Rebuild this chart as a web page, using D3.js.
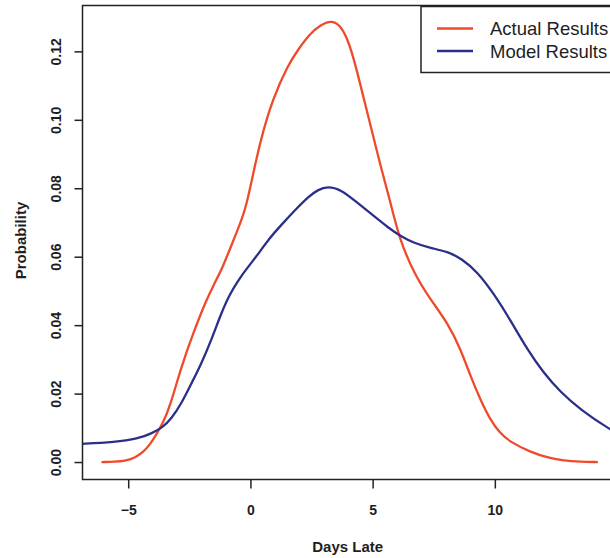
<!DOCTYPE html>
<html>
<head>
<meta charset="utf-8">
<script src="https://cdn.jsdelivr.net/npm/d3@7"></script>
<style>
  html, body { margin: 0; padding: 0; background: #fff; }
  svg { display: block; }
  text { font-family: "Liberation Sans", Arial, Helvetica, sans-serif; fill: #1e1e1e; }
</style>
</head>
<body>
<svg id="chart" width="610" height="558"></svg>
<script>
// ---- data ----
const actualX = [-6.06,-5.55,-5.14,-4.73,-4.39,-4.12,-3.85,-3.58,-3.30,-2.83,-2.35,-1.81,-1.47,-1.13,-0.86,-0.58,-0.31,-0.10,0.23,0.50,0.90,1.53,2.00,2.41,2.89,3.29,3.63,3.98,4.31,4.65,5.00,5.33,5.71,6.08,6.69,7.38,8.06,8.60,9.01,9.42,9.80,10.20,10.60,11.46,12.20,12.82,13.50,14.18];
const actualY = [0.0000,0.0001,0.0003,0.0012,0.0029,0.0050,0.0080,0.0114,0.0160,0.0278,0.0375,0.0473,0.0522,0.0570,0.0619,0.0668,0.0717,0.0770,0.0882,0.0962,0.1058,0.1160,0.1210,0.1250,0.1278,0.1290,0.1280,0.1238,0.1158,0.1058,0.0960,0.0863,0.0765,0.0655,0.0551,0.0473,0.0408,0.0330,0.0250,0.0180,0.0125,0.0085,0.0060,0.0029,0.0012,0.0004,0.0001,0.0000];
const modelX = [-7.30,-6.91,-5.55,-4.60,-4.05,-3.58,-3.24,-2.83,-2.42,-2.01,-1.60,-1.20,-0.85,-0.50,-0.24,0.44,0.71,1.25,1.90,2.40,2.75,3.16,3.70,4.30,4.95,5.65,6.15,6.69,7.38,8.06,8.65,9.28,9.96,10.64,11.32,12.00,12.68,13.50,14.72,15.40];
const modelY = [0.0052,0.0053,0.0058,0.0068,0.0083,0.0102,0.0126,0.0170,0.0229,0.0287,0.0356,0.0434,0.0490,0.0530,0.0557,0.0619,0.0648,0.0692,0.0742,0.0777,0.0795,0.0806,0.0796,0.0762,0.0725,0.0684,0.0660,0.0640,0.0625,0.0615,0.0594,0.0556,0.0492,0.0414,0.0330,0.0260,0.0205,0.0153,0.0094,0.0070];
const seriesNames = ["Actual Results", "Model Results"];
const seriesColors = ["#ef4a2c", "#2b2f8c"];
const xTicks = [-5, 0, 5, 10];
const yTicks = [0.00, 0.02, 0.04, 0.06, 0.08, 0.10, 0.12];
const xTitle = "Days Late";
const yTitle = "Probability";

// ---- layout ----
const svg = d3.select("#chart");
const pL = 82.5, pR = 616.8, pT = 5.5, pB = 479.5;
const x = d3.scaleLinear().domain([-6.87, 14.99]).range([pL, pR]);
const y = d3.scaleLinear().domain([-0.0051, 0.1334]).range([pB, pT]);

svg.append("defs").append("clipPath").attr("id", "plotclip")
  .append("rect").attr("x", pL).attr("y", pT).attr("width", pR - pL).attr("height", pB - pT);

// curves
const series = [
  actualX.map((v, i) => [v, actualY[i]]),
  modelX.map((v, i) => [v, modelY[i]])
];
const line = d3.line().x(d => x(d[0])).y(d => y(d[1])).curve(d3.curveBasis);
const g = svg.append("g").attr("clip-path", "url(#plotclip)");
series.forEach((s, i) => {
  g.append("path").attr("d", line(s)).attr("fill", "none")
    .attr("stroke", seriesColors[i]).attr("stroke-width", 2.3)
    .attr("stroke-linejoin", "round").attr("stroke-linecap", "round");
});

// box
svg.append("rect").attr("x", pL).attr("y", pT).attr("width", pR - pL).attr("height", pB - pT)
  .attr("fill", "none").attr("stroke", "#222").attr("stroke-width", 1.5);

// axes
const xAxis = svg.append("g").attr("transform", `translate(0,${pB})`)
  .call(d3.axisBottom(x).tickValues(xTicks).tickSize(9).tickPadding(17).tickFormat(d => d < 0 ? "\u2212" + Math.abs(d) : d));
xAxis.select(".domain").remove();
xAxis.selectAll("line").attr("stroke", "#222").attr("stroke-width", 1.5);
xAxis.selectAll("text").attr("font-size", 14).attr("font-family", "Liberation Sans, Arial, sans-serif")
  .attr("fill", "#1e1e1e").attr("font-weight", "bold");

const yAxis = svg.append("g").attr("transform", `translate(${pL},0)`)
  .call(d3.axisLeft(y).tickValues(yTicks).tickSize(8).tickFormat(d3.format(".2f")));
yAxis.select(".domain").remove();
yAxis.selectAll("line").attr("stroke", "#222").attr("stroke-width", 1.5);
yAxis.selectAll("text")
  .attr("font-size", 14).attr("font-family", "Liberation Sans, Arial, sans-serif").attr("font-weight", "bold")
  .attr("fill", "#1e1e1e")
  .attr("x", null).attr("dy", null)
  .attr("text-anchor", "middle")
  .attr("transform", "translate(-27,0) rotate(-90)")
  .attr("dominant-baseline", "central");

// titles
svg.append("text").attr("x", (pL + pR) / 2 - 2).attr("y", 552).attr("text-anchor", "middle")
  .attr("font-size", 15).attr("font-weight", "bold").text(xTitle);
svg.append("text").attr("transform", `translate(20,${(pT + pB) / 2 - 2}) rotate(-90)`)
  .attr("text-anchor", "middle").attr("dominant-baseline", "central")
  .attr("font-size", 15).attr("font-weight", "bold").text(yTitle);

// legend
const lg = svg.append("g");
lg.append("rect").attr("x", 421).attr("y", 6.5).attr("width", pR - 421).attr("height", 66)
  .attr("fill", "#fff").attr("stroke", "#222").attr("stroke-width", 1.5);
seriesNames.forEach((name, i) => {
  const yy = 28.5 + i * 22.5;
  lg.append("line").attr("x1", 437).attr("x2", 473).attr("y1", yy).attr("y2", yy)
    .attr("stroke", seriesColors[i]).attr("stroke-width", 2.3);
  lg.append("text").attr("x", 490).attr("y", yy).attr("dominant-baseline", "central")
    .attr("font-size", 18.5).text(name);
});
</script>
</body>
</html>
